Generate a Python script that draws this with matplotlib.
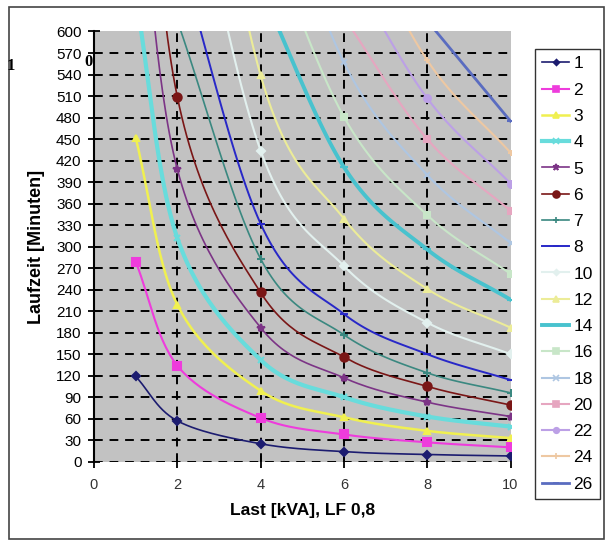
import numpy as np
import matplotlib
matplotlib.use("Agg")
import matplotlib.pyplot as plt
from matplotlib.patches import Rectangle

plt.rcParams['font.family'] = ['Liberation Sans', 'DejaVu Sans']

# Last in kVA (x-Werte der Messpunkte)
last = [1, 2, 4, 6, 8, 10]

# Laufzeit in Minuten je Anzahl Batterien (Werte oberhalb 600 liegen ausserhalb der Achse)
serien = ['1', '2', '3', '4', '5', '6', '7', '8', '10', '12', '14', '16', '18', '20', '22', '24', '26']
lz_1 = [119, 57, 25, 14, 10, 8]
lz_2 = [279, 134, 61, 38, 27, 20]
lz_3 = [452, 219, 99, 62, 43, 33]
lz_4 = [650, 312, 142, 90, 63, 49]
lz_5 = [850, 408, 187, 117, 83, 63]
lz_6 = [1080, 509, 236, 146, 105, 79]
lz_7 = [None, 615, 283, 177, 124, 96]
lz_8 = [None, 715, 332, 206, 150, 114]
lz_10 = [None, 920, 434, 273, 194, 150]
lz_12 = [None, 1150, 539, 339, 241, 187]
lz_14 = [None, None, 660, 411, 296, 226]
lz_16 = [None, None, 760, 481, 344, 262]
lz_18 = [None, None, 870, 557, 400, 305]
lz_20 = [None, None, None, 620, 450, 350]
lz_22 = [None, None, None, 700, 507, 388]
lz_24 = [None, None, None, 780, 560, 431]
lz_26 = [None, None, None, None, 615, 475]
daten = [lz_1, lz_2, lz_3, lz_4, lz_5, lz_6, lz_7, lz_8, lz_10, lz_12,
         lz_14, lz_16, lz_18, lz_20, lz_22, lz_24, lz_26]

farben = ['#1c1c70', '#ee3cdc', '#f0f050', '#68dcdc', '#7c3486', '#7a1616', '#3a8880',
          '#2828c8', '#e2f0ee', '#ecec98', '#48c2ce', '#c8e6c8', '#aec6e2', '#e6a6c0',
          '#bca0e6', '#eec8a2', '#5a6cc0']
marker = ['D', 's', '^', 'x', '*', 'o', '+', '_', 'D', '^', '_', 's', 'x', 's', 'o', '+', '_']
msize = [4, 6, 5, 5, 6, 6, 6, 6, 4, 5, 6, 5, 5, 5, 5, 5, 6]
lbreite = [1.2, 1.5, 1.8, 3.0, 1.2, 1.2, 1.2, 1.4, 1.5, 1.5, 2.8, 1.5, 1.5, 1.5, 1.5, 1.5, 2.0]


def glatt(xs, ys, n=30):
    # Catmull-Rom Kurve durch die Punkte, wie Excel "geglaettete Linie"
    p = np.column_stack([xs, ys]).astype(float)
    if len(p) < 3:
        return p[:, 0], p[:, 1]
    p = np.vstack([2 * p[0] - p[1], p, 2 * p[-1] - p[-2]])
    out = []
    for i in range(1, len(p) - 2):
        p0, p1, p2, p3 = p[i - 1], p[i], p[i + 1], p[i + 2]
        t = np.linspace(0, 1, n)[:, None]
        seg = 0.5 * ((2 * p1) + (-p0 + p2) * t + (2 * p0 - 5 * p1 + 4 * p2 - p3) * t ** 2
                     + (-p0 + 3 * p1 - 3 * p2 + p3) * t ** 3)
        out.append(seg)
    out = np.vstack(out)
    return out[:, 0], out[:, 1]


fig = plt.figure(figsize=(6.07, 5.43), dpi=100)
ax = fig.add_axes([94 / 607, 1 - 461.7 / 543, (510.5 - 94) / 607, (461.7 - 31.5) / 543])
ax.set_facecolor('#c2c2c2')

for name, werte, c, m, ms, lw in zip(serien, daten, farben, marker, msize, lbreite):
    xs = [x for x, v in zip(last, werte) if v is not None]
    ys = [v for v in werte if v is not None]
    gx, gy = glatt(xs, ys)
    ax.plot(gx, gy, color=c, lw=lw, zorder=3)
    ax.plot(xs, ys, ls='none', marker=m, ms=ms, color=c, mec=c, mew=1.5, zorder=4)
    ax.plot([], [], color=c, lw=lw, marker=m, ms=ms - 1, mec=c, mew=1.2, label=name)

ax.set_xlim(0, 10)
ax.set_ylim(0, 600)
ax.set_xticks(range(0, 11, 2))
ax.set_yticks(range(0, 601, 30))
for y in range(0, 601, 30):
    if y < 600:
        ax.axhline(y, color='black', lw=1.4, ls=(0, (4.5, 3.5)), zorder=2)
for x in range(2, 10, 2):
    ax.axvline(x, color='black', lw=1.4, ls=(0, (4.5, 3.5)), zorder=2)

for s in ['top', 'right', 'bottom']:
    ax.spines[s].set_visible(False)
ax.spines['left'].set_linewidth(1.5)
ax.tick_params(axis='y', direction='inout', length=8, width=1.3, labelsize=11, pad=5)
ax.tick_params(axis='x', direction='inout', length=8, width=1.3, labelsize=10.5, pad=8,
               labelcolor='#333333')
ax.set_ylabel('Laufzeit [Minuten]', fontsize=13, fontweight='bold', labelpad=8)
ax.set_xlabel('Last [kVA], LF 0,8', fontsize=12.5, fontweight='bold', labelpad=8)

leg = fig.legend(loc='upper left', bbox_to_anchor=(535 / 607, 1 - 49 / 543), fontsize=12.5,
                 frameon=True, fancybox=False, edgecolor='black', handlelength=1.55,
                 handletextpad=0.25, labelspacing=0.64, borderpad=0.42, borderaxespad=0)
leg.get_frame().set_linewidth(1.0)

# Reste eines Textfeldes im Original
fig.text(7 / 607, 1 - 66 / 543, '1', fontsize=12, fontweight='bold', family='Liberation Serif',
         va='center')
fig.text(84 / 607, 1 - 62 / 543, '0', fontsize=12, fontweight='bold', family='Liberation Serif',
         va='center')

fig.patches.append(Rectangle((9 / 607, 1 - 539 / 543), (604 - 9) / 607, (539 - 7) / 543,
                             transform=fig.transFigure, fill=False, edgecolor='#444444', lw=1.2))

fig.savefig('out.png', dpi=100)
